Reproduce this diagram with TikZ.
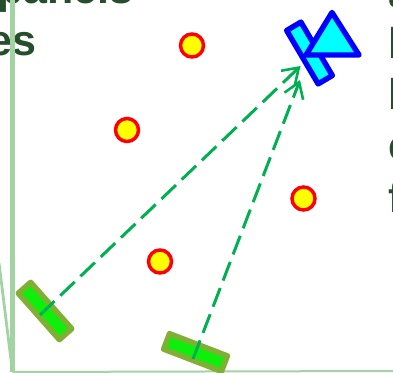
\documentclass[tikz,border=0pt]{standalone}
\usepackage{fontspec}
\setmainfont{Liberation Sans}
\usetikzlibrary{arrows.meta}
\definecolor{textgreen}{HTML}{264D2C}
\definecolor{axisgreen}{HTML}{A3D3A3}
\definecolor{raygreen}{HTML}{00B050}
\definecolor{paneledge}{HTML}{7FAF33}
\definecolor{panelfill}{HTML}{0CF00C}
\definecolor{cyanfill}{HTML}{00FFFF}
\definecolor{pureblue}{HTML}{0000FF}
\definecolor{purered}{HTML}{FF0000}
\definecolor{pureyellow}{HTML}{FFFF00}
\tikzset{
  x=1pt,y=-1pt,
  cut/.style={anchor=base west,inner sep=0pt,font=\bfseries\fontsize{43}{43}\selectfont,text=textgreen},
  axisline/.style={draw=axisgreen,line width=2.8pt},
  spot/.style={circle,draw=purered,fill=pureyellow,line width=3.5pt,minimum size=23pt,inner sep=0pt},
  panelbox/.style={rectangle,draw=paneledge,fill=panelfill,line width=5.5pt,line join=round,inner sep=0pt,minimum width=62pt,minimum height=16.5pt},
  bluebox/.style={rectangle,draw=pureblue,fill=cyanfill,line width=5.4pt,line join=round,inner sep=0pt,minimum width=62pt,minimum height=16.5pt},
  ray/.style={draw=raygreen,line width=3pt,dash pattern=on 20pt off 8pt,-{Straight Barb[length=15pt,width=20pt,line width=2.6pt]}},
}
\begin{document}
\begin{tikzpicture}
\useasboundingbox (0,0) rectangle (393,372);
\clip (0,0) rectangle (393,372);
\node[cut] (t1) at (-3,4) {panels};
\node[cut] (t2) at (-12,55) {es};
\node[cut] (r1) at (388,7) {a};
\node[cut] (r2) at (388,58) {l};
\node[cut] (r3) at (388,109) {l};
\node[cut] (r4) at (388,160) {c};
\node[cut] (r5) at (388,212) {f};
\coordinate (ax0) at (12.5,0);
\coordinate (ax1) at (12.5,372);
\coordinate (ax2) at (393,371);
\coordinate (ax3) at (-1,263);
\draw[axisline,line width=4.5pt] (ax0) -- (ax1);
\draw[axisline,line width=2pt] (ax1) -- (ax2);
\draw[axisline] (ax3) -- (ax1);
\node[spot] (s1) at (192,45.5) {};
\node[spot] (s2) at (127,130) {};
\node[spot] (s3) at (303.5,198.5) {};
\node[spot] (s4) at (160,261.5) {};
\node[panelbox,rotate=-48.5] (p1) at (45,311) {};
\node[panelbox,rotate=-21] (p2) at (195.5,352.5) {};
\node[bluebox,rotate=-59.5] (b) at (309.5,53) {};
\coordinate (t) at (332,12.5);
\coordinate (u) at (359,55);
\coordinate (v) at (306,55);
\draw[draw=pureblue,fill=cyanfill,line width=5.4pt,line join=round] (t) -- (u) -- (v) -- cycle;
\coordinate (e1) at (300.5,66);
\coordinate (e2) at (300,80);
\coordinate (o1) at (40,315);
\coordinate (o2) at (193,359);
\draw[ray] (o1) -- (e1);
\draw[ray] (o2) -- (e2);
\end{tikzpicture}
\end{document}
